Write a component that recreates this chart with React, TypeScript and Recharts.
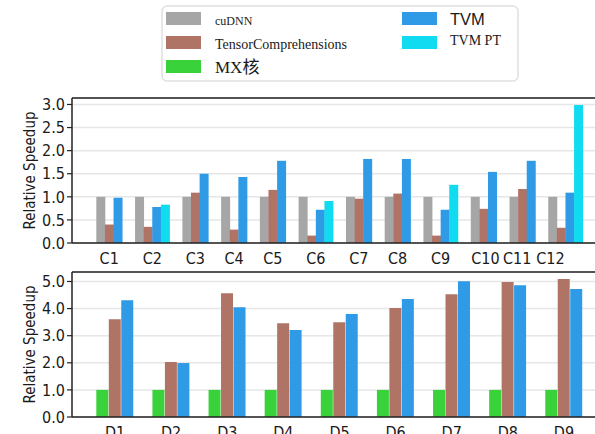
import React from 'react';
import { BarChart, Bar, XAxis, YAxis, CartesianGrid, Cell, ReferenceLine, Legend } from 'recharts';

// ---- Top panel (C1..C12) ----
const convCategories = ['C1', 'C2', 'C3', 'C4', 'C5', 'C6', 'C7', 'C8', 'C9', 'C10', 'C11', 'C12'];
const cudnnValues: (number | null)[] = [1, 1, 1, 1, 1, 1, 1, 1, 1, 1, 1, 1];
const tcConvValues: (number | null)[] = [0.40, 0.35, 1.09, 0.29, 1.15, 0.16, 0.96, 1.07, 0.16, 0.74, 1.17, 0.33];
const tvmConvValues: (number | null)[] = [0.98, 0.78, 1.50, 1.43, 1.78, 0.72, 1.82, 1.82, 0.72, 1.54, 1.78, 1.09];
const tvmPtValues: (number | null)[] = [null, 0.83, null, null, null, 0.91, null, null, 1.26, null, null, 2.99];
const convTickShift = [0, 0, 0, 0, 0, 0, 0, 0, 0, 0.2, -0.6, -1.75];
const convYTicks = [0, 0.5, 1.0, 1.5, 2.0, 2.5, 3.0];

// ---- Bottom panel (D1..D9) ----
const dwCategories = ['D1', 'D2', 'D3', 'D4', 'D5', 'D6', 'D7', 'D8', 'D9'];
const mxValues: (number | null)[] = [1, 1, 1, 1, 1, 1, 1, 1, 1];
const tcDwValues: (number | null)[] = [3.61, 2.03, 4.57, 3.46, 3.50, 4.02, 4.53, 4.98, 5.09];
const tvmDwValues: (number | null)[] = [4.31, 1.99, 4.05, 3.21, 3.80, 4.35, 5.01, 4.86, 4.72];
const dwYTicks = [0, 1, 2, 3, 4, 5];

const COLORS = {
  cudnn: '#a6a6a6',
  tc: '#b07467',
  mx: '#3ad23a',
  tvm: '#2f9ae5',
  tvmpt: '#10dbf0',
};

type Row = { x: number; v: number; color: string };

function buildRows(series: { values: (number | null)[]; color: string }[], n: number, shifts?: number[]) {
  const rows: Row[] = [];
  const ticks: number[] = [];
  let start = 0;
  for (let g = 0; g < n; g++) {
    const present = series.filter((s) => s.values[g] != null);
    present.forEach((s, k) => rows.push({ x: start + k + 0.5, v: s.values[g] as number, color: s.color }));
    ticks.push(start + present.length / 2 + (shifts ? shifts[g] : 0));
    start += present.length + 1.5;
  }
  const total = start - 1.5;
  const pad = total * 0.05;
  return { rows, ticks, domain: [-pad, total + pad] as [number, number] };
}

const top = buildRows(
  [
    { values: cudnnValues, color: COLORS.cudnn },
    { values: tcConvValues, color: COLORS.tc },
    { values: tvmConvValues, color: COLORS.tvm },
    { values: tvmPtValues, color: COLORS.tvmpt },
  ],
  convCategories.length,
  convTickShift
);

const bottom = buildRows(
  [
    { values: mxValues, color: COLORS.mx },
    { values: tcDwValues, color: COLORS.tc },
    { values: tvmDwValues, color: COLORS.tvm },
  ],
  dwCategories.length
);

const TICK_FONT = "'DejaVu Sans Condensed', 'DejaVu Sans', sans-serif";
const tickStyle = { fontFamily: TICK_FONT, fontSize: 16, fill: '#1a1a1a' };
const SPINE = '#222';

const YLabel = (props: any) => {
  const vb = props.viewBox || {};
  const x = 30;
  const y = (vb.y || 0) + (vb.height || 0) / 2;
  return (
    <text
      x={x}
      y={y}
      transform={`rotate(-90, ${x}, ${y})`}
      textAnchor="middle"
      dominantBaseline="central"
      fontFamily={TICK_FONT}
      fontSize={15}
      fill="#1a1a1a"
    >
      Relative Speedup
    </text>
  );
};

const SERIF = "'Liberation Serif', 'Noto Sans CJK SC', serif";
const legendLeft = [
  { label: 'cuDNN', color: COLORS.cudnn, size: 12, font: SERIF },
  { label: 'TensorComprehensions', color: COLORS.tc, size: 14, font: SERIF },
  { label: 'MX核', color: COLORS.mx, size: 17, font: SERIF },
];
const legendRight = [
  { label: 'TVM', color: COLORS.tvm, size: 16.5, font: "'Liberation Sans', sans-serif" },
  { label: 'TVM PT', color: COLORS.tvmpt, size: 14, font: SERIF },
];

const LegendBox = () => (
  <svg width={358} height={77} style={{ display: 'block' }}>
    <rect x={1} y={1} width={356} height={75} rx={5} ry={5} fill="#fff" stroke="#e0e0e0" strokeWidth={1.5} />
    {legendLeft.map((it, i) => (
      <g key={it.label}>
        <rect x={5} y={7 + i * 24} width={35} height={13} fill={it.color} />
        <text x={54} y={20 + i * 24} fontFamily={it.font} fontSize={it.size} fill="#1a1a1a">
          {it.label}
        </text>
      </g>
    ))}
    {legendRight.map((it, i) => (
      <g key={it.label}>
        <rect x={241} y={7 + i * 24} width={35} height={13} fill={it.color} />
        <text x={289} y={20 + i * 20} fontFamily={it.font} fontSize={it.size} fill="#1a1a1a">
          {it.label}
        </text>
      </g>
    ))}
  </svg>
);

export default function App() {
  return (
    <div style={{ position: 'absolute', left: 0, top: 0, width: 595, height: 434, overflow: 'hidden', background: '#fff' }}>
      <div style={{ position: 'absolute', left: 0, top: 0 }}>
        <BarChart width={620} height={270} data={top.rows} margin={{ top: 98, right: 13, bottom: 0, left: 0 }} barCategoryGap={0}>
          <CartesianGrid horizontal vertical={false} stroke="#e6e6e6" strokeWidth={1.5} />
          <XAxis
            dataKey="x"
            type="number"
            domain={top.domain}
            allowDataOverflow
            ticks={top.ticks}
            interval={0}
            tickFormatter={(_v: number, i: number) => convCategories[i]}
            tickLine={false}
            tickSize={0}
            tickMargin={10}
            height={27}
            axisLine={{ stroke: SPINE, strokeWidth: 1.5 }}
            tick={tickStyle}
          />
          <YAxis
            type="number"
            domain={[0, 3.14]}
            allowDataOverflow
            ticks={convYTicks}
            interval={0}
            tickFormatter={(v: number) => v.toFixed(1)}
            width={72}
            tickSize={5}
            tickMargin={2}
            tickLine={{ stroke: SPINE, strokeWidth: 1.2 }}
            axisLine={{ stroke: SPINE, strokeWidth: 1.5 }}
            tick={tickStyle}
            label={YLabel}
          />
          <ReferenceLine y={3.14} stroke={SPINE} strokeWidth={1.5} ifOverflow="visible" />
          <Legend
            layout="horizontal"
            verticalAlign="middle"
            align="center"
            content={() => <LegendBox />}
            wrapperStyle={{ position: 'absolute', left: 161, top: 5, width: 358, height: 77 }}
          />
          <Bar dataKey="v" isAnimationActive={false}>
            {top.rows.map((r, i) => (
              <Cell key={i} fill={r.color} />
            ))}
          </Bar>
        </BarChart>
      </div>
      <div style={{ position: 'absolute', left: 0, top: 270 }}>
        <BarChart width={620} height={180} data={bottom.rows} margin={{ top: 2, right: 13, bottom: 0, left: 0 }} barCategoryGap={0}>
          <CartesianGrid horizontal vertical={false} stroke="#e6e6e6" strokeWidth={1.5} />
          <XAxis
            dataKey="x"
            type="number"
            domain={bottom.domain}
            allowDataOverflow
            ticks={bottom.ticks}
            interval={0}
            tickFormatter={(_v: number, i: number) => dwCategories[i]}
            tickLine={false}
            tickSize={0}
            tickMargin={10}
            height={33}
            axisLine={{ stroke: SPINE, strokeWidth: 1.5 }}
            tick={tickStyle}
          />
          <YAxis
            type="number"
            domain={[0, 5.35]}
            allowDataOverflow
            ticks={dwYTicks}
            interval={0}
            tickFormatter={(v: number) => v.toFixed(1)}
            width={72}
            tickSize={5}
            tickMargin={2}
            tickLine={{ stroke: SPINE, strokeWidth: 1.2 }}
            axisLine={{ stroke: SPINE, strokeWidth: 1.5 }}
            tick={tickStyle}
            label={YLabel}
          />
          <ReferenceLine y={5.35} stroke={SPINE} strokeWidth={1.5} ifOverflow="visible" />
          <Bar dataKey="v" isAnimationActive={false}>
            {bottom.rows.map((r, i) => (
              <Cell key={i} fill={r.color} />
            ))}
          </Bar>
        </BarChart>
      </div>
    </div>
  );
}
